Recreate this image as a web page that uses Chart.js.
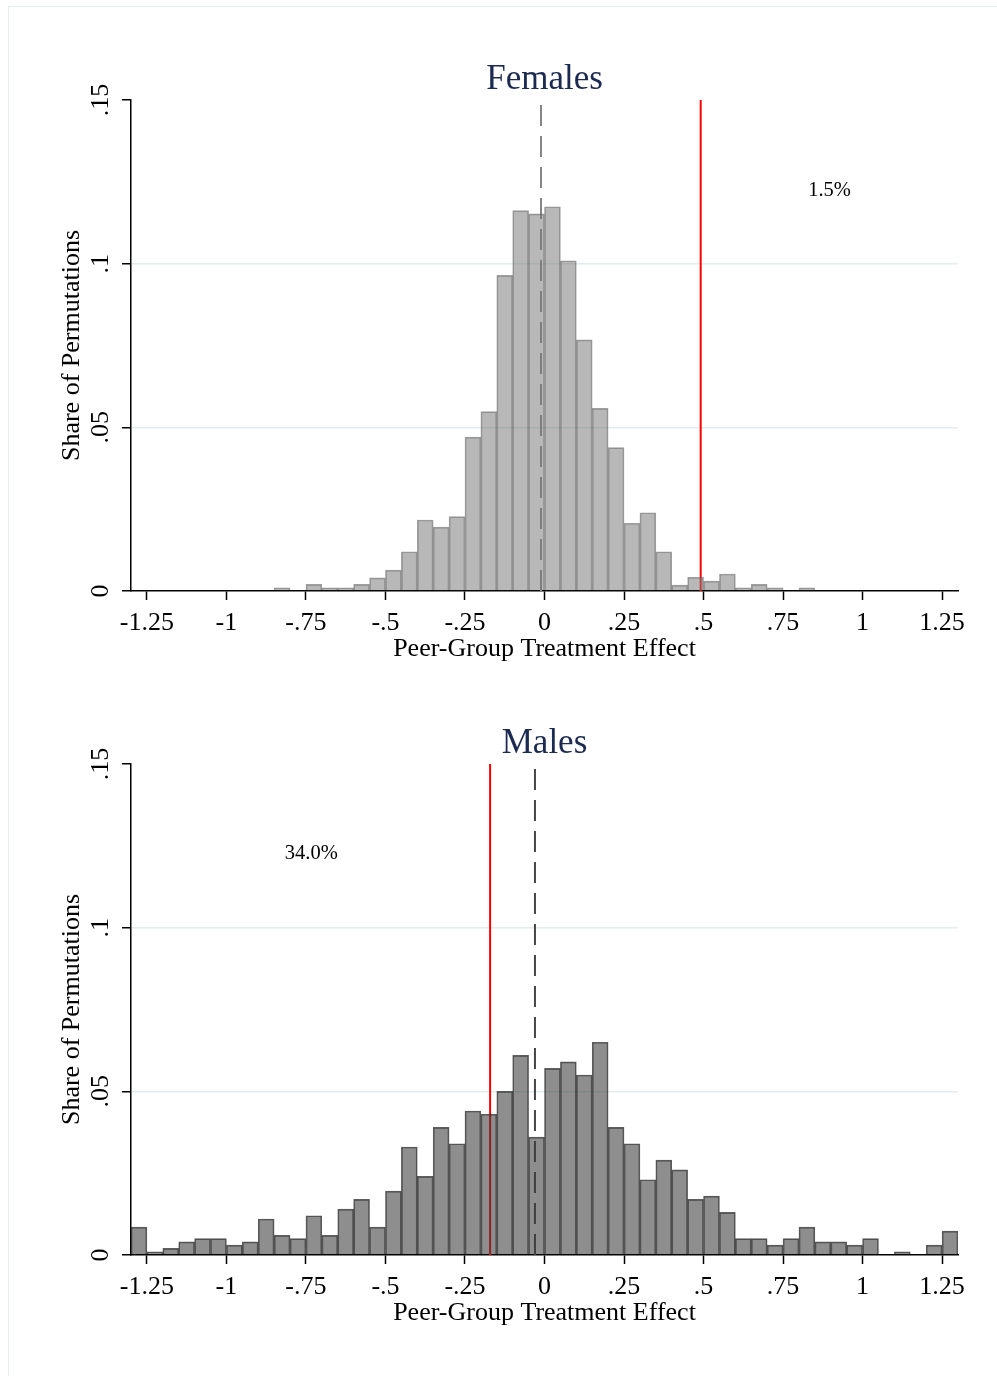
<!DOCTYPE html>
<html lang="en">
<head>
  <meta charset="UTF-8" />
  <title>Permutation Test - Peer-Group Treatment Effect</title>

  <!-- Load Chart.js -->
  <script src="https://cdn.jsdelivr.net/npm/chart.js"></script>

  <style>
    body {
      margin: 0;
      background: #fff;
      width: 997px;
      height: 1376px;
      overflow: hidden;
      position: relative;
    }

    .frame {
      position: absolute;
      left: 8px;
      top: 6px;
      width: 1000px;
      height: 1400px;
      border: 1px solid #e9eeee;
    }

    .panel {
      position: absolute;
      left: 0;
    }

    #femalesChart { top: 0; }
    #malesChart { top: 664px; }
  </style>
</head>
<body>
  <div class="frame"></div>
  <canvas id="femalesChart" class="panel" width="997" height="680"></canvas>
  <canvas id="malesChart" class="panel" width="997" height="680"></canvas>

  <script>
    // Histogram bins are 0.05 wide and run from -1.3 to 1.3
    const binStart = -1.3;
    const binWidth = 0.05;

    // Share of permutations in each bin
    const femaleShares = [
      0, 0, 0, 0, 0, 0, 0, 0, 0,
      0.001, 0, 0.002, 0.001, 0.001, 0.002, 0.004, 0.0064, 0.012, 0.0217,
      0.0195, 0.0227, 0.047, 0.0548, 0.0964, 0.1162, 0.1152,
      0.1174, 0.1009, 0.0767, 0.0558, 0.0438, 0.0207, 0.0239, 0.012, 0.0018,
      0.0042, 0.003, 0.0052, 0.001, 0.002, 0.001, 0, 0.001,
      0, 0, 0, 0, 0, 0, 0, 0, 0
    ];
    const maleShares = [
      0.0085, 0.001, 0.002, 0.004, 0.005, 0.005, 0.003, 0.004, 0.011, 0.006,
      0.005, 0.012, 0.006, 0.014, 0.017, 0.0085, 0.0195, 0.033, 0.024, 0.039,
      0.034, 0.044, 0.043, 0.050, 0.061, 0.036,
      0.057, 0.059, 0.055, 0.065, 0.039, 0.034, 0.023, 0.029, 0.026, 0.017,
      0.018, 0.013, 0.005, 0.005, 0.003, 0.005, 0.0085, 0.004, 0.004, 0.003,
      0.005, 0, 0.001, 0, 0.003, 0.0073
    ];

    // Actual estimate (red) and permutation mean (dashed)
    const femaleActual = 0.491;
    const femaleNullMean = -0.011;
    const maleActual = -0.171;
    const maleNullMean = -0.030;

    // Share of permutations more extreme than the actual estimate
    const femaleLabel = { text: '1.5%', x: 0.896, y: 0.1222 };
    const maleLabel = { text: '34.0%', x: -0.733, y: 0.1225 };

    const xTickValues = [-1.25, -1, -0.75, -0.5, -0.25, 0, 0.25, 0.5, 0.75, 1, 1.25];
    const xTickLabels = ['-1.25', '-1', '-.75', '-.5', '-.25', '0', '.25', '.5', '.75', '1', '1.25'];
    const yTickValues = [0, 0.05, 0.1, 0.15];
    const yTickLabels = ['0', '.05', '.1', '.15'];

    const serif = '"Liberation Serif", "Times New Roman", serif';

    function binData(shares) {
      return shares.map((s, i) => ({ x: binStart + binWidth * (i + 0.5), y: s }));
    }

    function verticalLine(v) {
      return [{ x: v, y: yTickValues[0] }, { x: v, y: yTickValues[yTickValues.length - 1] }];
    }

    // writes the share text at a data position
    const pValueLabel = {
      id: 'pValueLabel',
      afterDatasetsDraw(chart, args, opts) {
        const { ctx, scales: { x, y } } = chart;
        ctx.save();
        ctx.font = '20.5px ' + serif;
        ctx.fillStyle = '#000';
        ctx.textAlign = 'center';
        ctx.textBaseline = 'middle';
        ctx.fillText(opts.text, x.getPixelForValue(opts.x), y.getPixelForValue(opts.y));
        ctx.restore();
      }
    };

    function drawPanel(id, title, shares, barFill, barEdge, actual, nullMean, nullColor, label) {
      return new Chart(document.getElementById(id), {
        type: 'bar',
        plugins: [pValueLabel],
        data: {
          datasets: [
            {
              data: binData(shares),
              backgroundColor: barFill,
              borderColor: barEdge,
              borderWidth: 1,
              barPercentage: 1,
              categoryPercentage: 1,
              order: 0
            },
            {
              type: 'line',
              data: verticalLine(actual),
              borderColor: '#ff0000',
              borderWidth: 2,
              pointRadius: 0,
              order: 1
            },
            {
              type: 'line',
              data: verticalLine(nullMean),
              borderColor: nullColor,
              borderWidth: 2,
              borderDash: [21, 10],
              pointRadius: 0,
              order: 1
            }
          ]
        },
        options: {
          responsive: false,
          animation: false,
          layout: { padding: { left: 0, right: 39, top: 0, bottom: 0 } },
          plugins: {
            legend: { display: false },
            tooltip: { enabled: false },
            title: {
              display: true,
              text: title,
              color: '#1c2a52',
              fullSize: false,
              font: { family: serif, size: 35, weight: 'normal', lineHeight: 1 },
              padding: { top: 62, bottom: 3 }
            },
            pValueLabel: label
          },
          scales: {
            x: {
              type: 'linear',
              min: -1.3,
              max: 1.3,
              offset: false,
              afterBuildTicks: s => { s.ticks = xTickValues.map(v => ({ value: v })); },
              afterFit: s => { s.height = 89; },
              ticks: {
                callback: (v, i) => xTickLabels[i],
                color: '#000',
                autoSkip: false,
                minRotation: 0,
                maxRotation: 0,
                padding: 8,
                font: { family: serif, size: 26, lineHeight: 1.2 }
              },
              grid: { offset: false, drawOnChartArea: false, tickLength: 9, tickColor: '#000', tickWidth: 1.5 },
              border: { color: '#000', width: 1.5 },
              title: {
                display: true,
                text: 'Peer-Group Treatment Effect',
                color: '#000',
                font: { family: serif, size: 26, lineHeight: 1.2 },
                padding: { top: 0, bottom: 15 }
              }
            },
            y: {
              min: 0,
              max: 0.15,
              afterBuildTicks: s => { s.ticks = yTickValues.map(v => ({ value: v })); },
              afterFit: s => { s.width = 131; },
              ticks: {
                callback: (v, i) => yTickLabels[i],
                color: '#000',
                minRotation: 90,
                maxRotation: 90,
                crossAlign: 'center',
                padding: 5,
                font: { family: serif, size: 26, lineHeight: 1.2 }
              },
              grid: {
                color: c => (c.index > 0 && c.index < yTickValues.length - 1) ? '#e1edef' : 'rgba(0,0,0,0)',
                lineWidth: 1.5,
                tickColor: '#000',
                tickLength: 9,
                tickWidth: 1.5
              },
              border: { color: '#000', width: 1.5 },
              title: {
                display: true,
                text: 'Share of Permutations',
                color: '#000',
                font: { family: serif, size: 26, lineHeight: 1.2 },
                padding: { top: 57, bottom: 0 }
              }
            }
          }
        }
      });
    }

    drawPanel('femalesChart', 'Females', femaleShares,
      'rgba(120,120,120,0.53)', 'rgba(95,95,95,0.6)',
      femaleActual, femaleNullMean, '#858585', femaleLabel);

    drawPanel('malesChart', 'Males', maleShares,
      'rgba(60,60,60,0.58)', 'rgba(40,40,40,0.75)',
      maleActual, maleNullMean, '#454545', maleLabel);
  </script>
</body>
</html>
